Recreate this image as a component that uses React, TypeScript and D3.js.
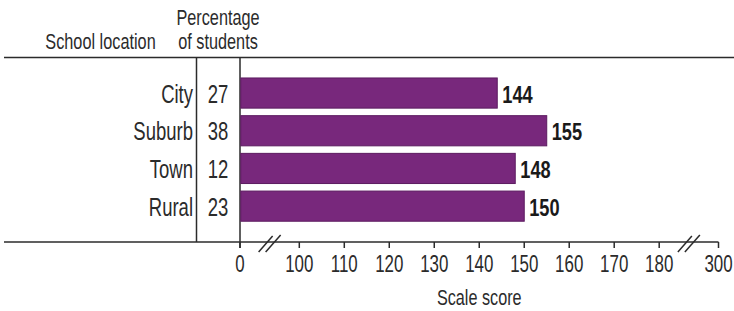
import * as d3 from 'd3';

const locations = ['City', 'Suburb', 'Town', 'Rural'];
const percentages = [27, 38, 12, 23];
const scores = [144, 155, 148, 150];
const tickValues = [0, 100, 110, 120, 130, 140, 150, 160, 170, 180, 300];

const width = 734;
const height = 311;
const font = "'Liberation Sans', Arial, sans-serif";
const ink = '#2b2b2b';

// the original uses a tall condensed face, so squeeze Liberation Sans horizontally
const Label = ({ x, y, size, squeeze = 0.72, anchor = 'start', bold = false, fill = ink, children }: any) => (
    <text
        transform={`translate(${x},${y}) scale(${squeeze},1)`}
        textAnchor={anchor}
        fontSize={size}
        fontWeight={bold ? 'bold' : 'normal'}
        fill={fill}
    >
        {children}
    </text>
);

const App = () => {
    const topY = 57.5;
    const axisY = 242;
    const dividerX = 196.5;

    // broken axis: 0 | 100..180 | 300
    const xScale = d3
        .scaleLinear()
        .domain([0, 100, 180, 300])
        .range([240, 299.3, 659.2, 718.5]);

    const yScale = d3
        .scaleBand<string>()
        .domain(locations)
        .range([74.2, 225])
        .paddingInner(0.2)
        .paddingOuter(0.1);

    const breaks = [(xScale(0) + xScale(100)) / 2, (xScale(180) + xScale(300)) / 2];

    return (
        <svg width={width} height={height} style={{ position: 'absolute', left: 0, top: 0 }} fontFamily={font}>
            <rect width={width} height={height} fill="#fff" />

            {/* header */}
            <Label x={100.5} y={49} size={22} squeeze={0.74} anchor="middle">School location</Label>
            <Label x={218} y={25} size={22} squeeze={0.74} anchor="middle">Percentage</Label>
            <Label x={218} y={49} size={22} squeeze={0.74} anchor="middle">of students</Label>

            {/* frame lines */}
            <line x1={4} x2={width} y1={topY} y2={topY} stroke={ink} strokeWidth={1.5} />
            <line x1={4} x2={xScale(300)} y1={axisY} y2={axisY} stroke={ink} strokeWidth={1.5} />
            <line x1={dividerX} x2={dividerX} y1={topY} y2={axisY} stroke={ink} strokeWidth={1.5} />
            <line x1={xScale(0)} x2={xScale(0)} y1={topY} y2={axisY + 6} stroke={ink} strokeWidth={1.5} />

            {/* bars */}
            {locations.map((loc, i) => {
                const y = yScale(loc) || 0;
                const cy = y + yScale.bandwidth() / 2;
                return (
                    <g key={loc}>
                        <rect
                            x={xScale(0) + 0.75}
                            y={y}
                            width={xScale(scores[i]) - xScale(0) - 0.75}
                            height={yScale.bandwidth()}
                            fill="#78287c"
                            stroke="#5c1b60"
                            strokeWidth={1}
                        />
                        <Label x={dividerX - 3.5} y={cy + 9.5} size={25} squeeze={0.74} anchor="end">{loc}</Label>
                        <Label x={218} y={cy + 9.5} size={25} squeeze={0.74} anchor="middle">{percentages[i]}</Label>
                        <Label x={xScale(scores[i]) + 5} y={cy + 9.5} size={24} squeeze={0.76} bold fill="#1a1a1a">{scores[i]}</Label>
                    </g>
                );
            })}

            {/* ticks */}
            {tickValues.map((t) => (
                <g key={t}>
                    <line x1={xScale(t)} x2={xScale(t)} y1={axisY} y2={axisY + 6} stroke={ink} strokeWidth={1.5} />
                    <Label x={xScale(t)} y={272} size={23.5} squeeze={0.72} anchor="middle">{t}</Label>
                </g>
            ))}

            {/* axis breaks */}
            {breaks.map((bx) => (
                <g key={bx} transform={`translate(${bx},${axisY})`} stroke={ink} strokeWidth={1.5}>
                    <line x1={-11} y1={10} x2={3} y2={-6} />
                    <line x1={-4} y1={10} x2={11} y2={-7} />
                </g>
            ))}

            <Label x={xScale(140)} y={305} size={22.5} squeeze={0.72} anchor="middle">Scale score</Label>
        </svg>
    );
};

export default App;
